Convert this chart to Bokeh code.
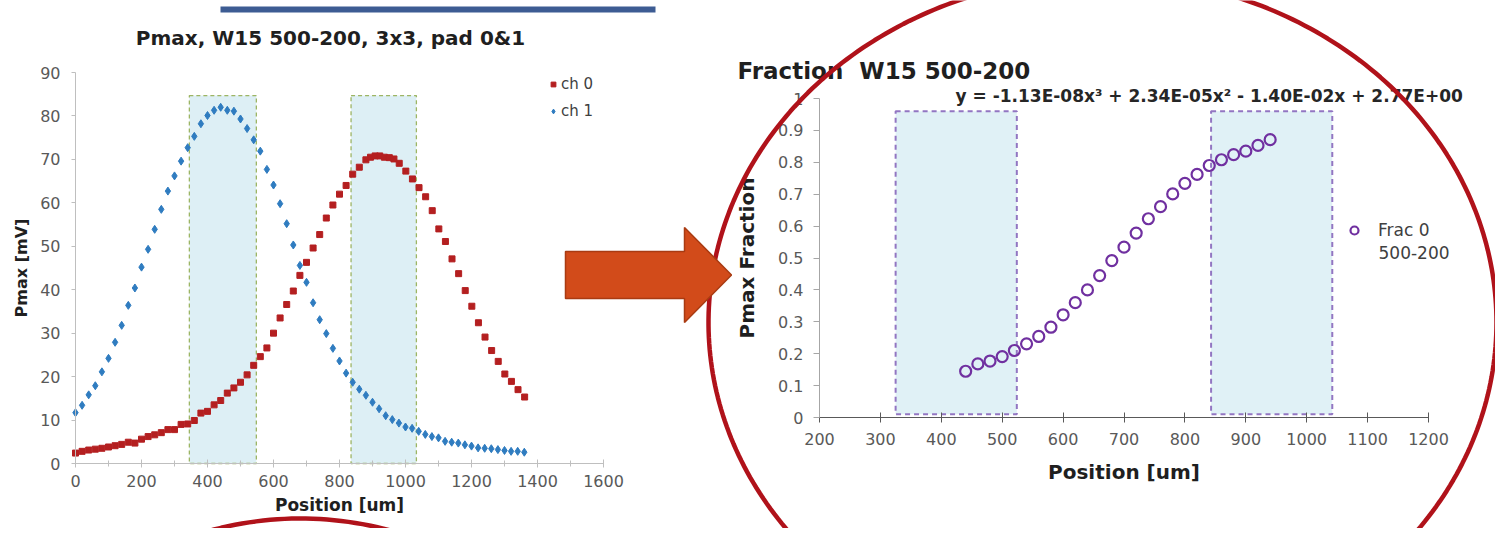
import numpy as np
from bokeh.plotting import figure
from bokeh.models import (Range1d, Legend, LegendItem, Label, PolyAnnotation, FixedTicker,
                          NumeralTickFormatter, LinearAxis)
from bokeh.embed import file_html
from bokeh.resources import INLINE

# ---------------- data: left chart (Pmax vs position) ----------------
ch0_position = [0, 20, 40, 60, 80, 100, 120, 140, 160, 180,
                200, 220, 240, 260, 280, 300, 320, 340, 360, 380,
                400, 420, 440, 460, 480, 500, 520, 540, 560, 580,
                600, 620, 640, 660, 680, 700, 720, 740, 760, 780,
                800, 820, 840, 860, 880, 894, 908, 922, 936, 951, 965,
                981, 1001, 1021, 1041, 1061, 1081, 1101, 1121, 1141, 1161,
                1181, 1201, 1221, 1241, 1261, 1281, 1301, 1321, 1341, 1361]
ch0_pmax = [2.4, 2.8, 3.1, 3.3, 3.5, 3.8, 4.1, 4.4, 4.9, 4.7,
            5.6, 6.2, 6.6, 7.1, 7.8, 7.8, 9.0, 9.1, 9.9, 11.6,
            12.0, 13.5, 14.5, 16.2, 17.4, 18.7, 20.4, 22.6, 24.6, 26.6,
            30.0, 33.5, 36.6, 39.7, 43.3, 46.3, 49.6, 52.7, 56.5, 59.5,
            62.0, 64.0, 66.6, 68.2, 69.9, 70.5, 70.8, 70.8, 70.5, 70.4, 70.1,
            69.1, 67.3, 65.5, 63.5, 61.4, 58.2, 54.0, 51.1, 47.1, 43.7,
            39.8, 36.2, 32.4, 29.1, 26.0, 23.5, 20.6, 18.9, 17.0, 15.3]
ch1_position = [0, 20, 40, 60, 80, 100, 120, 140, 160, 180,
                200, 220, 240, 260, 280, 300, 320, 340, 360, 380,
                400, 420, 440, 460, 480, 500, 520, 540, 560, 580,
                600, 620, 640, 660, 680, 700, 720, 740, 760, 780,
                800, 820, 840, 860, 880, 900, 920, 940, 960, 980,
                1000, 1020, 1040, 1060, 1080, 1100, 1120, 1140, 1160, 1180,
                1200, 1220, 1240, 1260, 1280, 1300, 1320, 1340, 1360]
ch1_pmax = [11.7, 13.4, 15.8, 17.9, 21.1, 24.2, 27.9, 31.8, 36.4, 40.4,
            45.2, 49.3, 53.9, 58.5, 62.7, 66.2, 69.6, 72.7, 75.3, 78.2,
            80.1, 81.3, 82.0, 81.3, 81.1, 79.3, 77.1, 74.5, 71.9, 67.7,
            64.1, 59.8, 55.2, 50.3, 45.6, 41.7, 37.0, 33.1, 29.9, 26.5,
            23.6, 20.8, 18.7, 17.1, 15.7, 14.1, 12.6, 11.0, 10.1, 9.3,
            8.4, 8.1, 7.4, 6.7, 6.2, 5.9, 5.1, 4.9, 4.7, 4.3,
            4.0, 3.6, 3.5, 3.4, 3.2, 3.0, 2.8, 2.8, 2.6]
left_band_start = [345, 835]
left_band_end = [548, 1033]
left_band_bottom = [0, 0]
left_band_top = [84.7, 84.7]
left_x_ticks = [0, 200, 400, 600, 800, 1000, 1200, 1400, 1600]
left_x_minor = [100, 300, 500, 700, 900, 1100, 1300, 1500]
left_y_ticks = [0, 10, 20, 30, 40, 50, 60, 70, 80, 90]

# ---------------- data: right chart (fraction) ----------------
frac_position = [440, 460, 480, 500, 520, 540, 560, 580, 600, 620,
                 640, 660, 680, 700, 720, 740, 760, 780, 800, 820,
                 840, 860, 880, 900, 920, 940]
frac_value = [0.145, 0.168, 0.177, 0.191, 0.210, 0.231, 0.254, 0.283, 0.322, 0.360,
              0.400, 0.445, 0.492, 0.534, 0.578, 0.623, 0.661, 0.701, 0.734, 0.762,
              0.790, 0.808, 0.824, 0.835, 0.853, 0.871]
right_band_start = [325, 843]
right_band_end = [524, 1042]
right_band_bottom = [0.01, 0.01]
right_band_top = [0.96, 0.96]
right_x_ticks = [200, 300, 400, 500, 600, 700, 800, 900, 1000, 1100, 1200]
right_y_ticks = [0, 0.1, 0.2, 0.3, 0.4, 0.5, 0.6, 0.7, 0.8, 0.9, 1.0]

FONT = "DejaVu Sans"
TICK_COL = "#595959"
TITLE_COL = "#1f1f1f"
RED = "#B0121A"
ORANGE = "#D24B1A"
NAVY = "#3D5C93"

W, H = 1495, 528

# one canvas laid out in slide pixels; each chart gets its own pair of scales
p = figure(width=W, height=H, x_range=Range1d(0, W), y_range=Range1d(H, 0),
           x_axis_type=None, y_axis_type=None, min_border=0,
           output_backend="svg", toolbar_location=None)
p.outline_line_color = None
p.background_fill_color = "white"
p.border_fill_color = "white"


def span(v0, v1, p0, p1, lo, hi):
    f = lambda px: v0 + (px - p0) * (v1 - v0) / (p1 - p0)
    return Range1d(f(lo), f(hi))


# left chart plot area: x 0..1600 -> px 75..603, y 0..90 -> py 463..72
# right chart plot area: x 200..1200 -> px 819..1428, y 0..1 -> py 417..98
p.extra_x_ranges = {"lx": span(0, 1600, 75, 603, 0, W),
                    "rx": span(200, 1200, 819, 1428, 0, W)}
p.extra_y_ranges = {"ly": span(0, 90, 463, 72, H, 0),
                    "ry": span(0, 1, 417, 98, H, 0)}

# ---------------- left chart ----------------
p.quad(left=left_band_start, right=left_band_end, bottom=left_band_bottom, top=left_band_top,
       x_range_name="lx", y_range_name="ly",
       fill_color="#DDEFF5", line_color="#9DB564", line_dash="4 3", line_width=1.3)
r0 = p.scatter(ch0_position, ch0_pmax, marker="square", size=6, color="#B41F20",
               x_range_name="lx", y_range_name="ly")
r1 = p.scatter(ch1_position, ch1_pmax, marker="diamond", size=8, color="#2F7CC0",
               x_range_name="lx", y_range_name="ly")


def style(ax, label_size, title_size):
    ax.major_label_text_font = FONT
    ax.major_label_text_font_size = label_size
    ax.major_label_text_color = TICK_COL
    ax.axis_label_text_font = FONT
    ax.axis_label_text_font_style = "bold"
    ax.axis_label_text_color = TITLE_COL
    ax.axis_label_text_font_size = title_size


lxa = LinearAxis(x_range_name="lx", y_range_name="ly", fixed_location=0, bounds=(0, 1600),
                 ticker=FixedTicker(ticks=left_x_ticks, minor_ticks=left_x_minor),
                 axis_label="Position [um]")
style(lxa, "16px", "17px")
lxa.axis_line_color = "#BFBFBF"
lxa.major_tick_line_color = "#BFBFBF"
lxa.minor_tick_line_color = "#BFBFBF"
lxa.major_tick_in = 4
lxa.major_tick_out = 4
lxa.minor_tick_in = 3
lxa.minor_tick_out = 3
lxa.major_label_standoff = 7
lxa.axis_label_standoff = 5
p.add_layout(lxa, "below")

lya = LinearAxis(x_range_name="lx", y_range_name="ly", fixed_location=0, bounds=(0, 90),
                 ticker=FixedTicker(ticks=left_y_ticks, minor_ticks=[]),
                 axis_label="Pmax [mV]")
style(lya, "16px", "16px")
lya.axis_line_color = "#BFBFBF"
lya.major_tick_line_color = "#BFBFBF"
lya.major_tick_in = 0
lya.major_tick_out = 4
lya.major_label_standoff = 11
lya.axis_label_standoff = 6
p.add_layout(lya, "left")

leg1 = Legend(items=[LegendItem(label="ch 0", renderers=[r0]),
                     LegendItem(label="ch 1", renderers=[r1])],
              location=(547, H - 121), orientation="vertical", glyph_width=12, glyph_height=20,
              label_height=20, spacing=7, padding=0, margin=0, label_standoff=2,
              border_line_color=None, background_fill_alpha=0,
              label_text_font=FONT, label_text_font_size="15px", label_text_color="#404040")
p.add_layout(leg1)

p.add_layout(Label(x=330, y=37, text="Pmax, W15 500-200, 3x3, pad 0&1",
                   text_align="center", text_baseline="middle", text_font=FONT,
                   text_font_size="20px", text_font_style="bold", text_color=TITLE_COL))

# ---------------- right chart ----------------
p.quad(left=right_band_start, right=right_band_end, bottom=right_band_bottom, top=right_band_top,
       x_range_name="rx", y_range_name="ry",
       fill_color="#E0F1F6", line_color="#9276C2", line_dash="5 4", line_width=2)
rf = p.scatter(frac_position, frac_value, marker="circle", size=11, line_color="#7030A0",
               line_width=2.2, fill_color=None, x_range_name="rx", y_range_name="ry")

rxa = LinearAxis(x_range_name="rx", y_range_name="ry", fixed_location=0, bounds=(200, 1200),
                 ticker=FixedTicker(ticks=right_x_ticks, minor_ticks=[]),
                 axis_label="Position [um]")
style(rxa, "16px", "20px")
rxa.axis_line_color = "#595959"
rxa.major_tick_line_color = "#595959"
rxa.major_tick_in = 5
rxa.major_tick_out = 5
rxa.major_label_standoff = 10
rxa.axis_label_standoff = 12
p.add_layout(rxa, "below")

rya = LinearAxis(x_range_name="rx", y_range_name="ry", fixed_location=200, bounds=(0, 1),
                 ticker=FixedTicker(ticks=right_y_ticks, minor_ticks=[]),
                 formatter=NumeralTickFormatter(format="0.[0]"),
                 axis_label="Pmax Fraction")
style(rya, "16px", "20px")
rya.axis_line_color = "#A6A6A6"
rya.major_tick_line_color = "#A6A6A6"
rya.major_tick_in = 0
rya.major_tick_out = 6
rya.major_label_standoff = 10
rya.axis_label_standoff = 16
p.add_layout(rya, "left")

leg3 = Legend(items=[LegendItem(label="Frac 0", renderers=[rf])],
              location=(1344, H - 240), glyph_width=20, glyph_height=20, label_height=20,
              padding=0, margin=0, label_standoff=14, border_line_color=None,
              background_fill_alpha=0, label_text_font=FONT, label_text_font_size="17px",
              label_text_color="#404040")
p.add_layout(leg3)
p.add_layout(Label(x=1378, y=252, text="500-200", text_align="left", text_baseline="middle",
                   text_font=FONT, text_font_size="17px", text_color="#404040"))

p.add_layout(Label(x=737, y=70, text="Fraction\u00a0\u00a0W15 500-200", text_align="left",
                   text_baseline="middle", text_font=FONT, text_font_size="23px",
                   text_font_style="bold", text_color=TITLE_COL))
p.add_layout(Label(x=955, y=95,
                   text="y = -1.13E-08x\u00b3 + 2.34E-05x\u00b2 - 1.40E-02x + 2.77E+00",
                   text_align="left", text_baseline="middle", text_font=FONT,
                   text_font_size="17px", text_font_style="bold", text_color="#262626"))

# ---------------- slide decorations ----------------
p.quad(left=[220], right=[655], top=[6], bottom=[12], fill_color=NAVY, line_color=None)
th = np.linspace(0, 2 * np.pi, 360)
p.add_layout(PolyAnnotation(xs=list(1102 + 394 * np.cos(th)), ys=list(322 + 346 * np.sin(th)),
                            fill_alpha=0, line_color=RED, line_alpha=1, line_width=4.5))
p.add_layout(PolyAnnotation(xs=list(300 + 406 * np.cos(th)), ys=list(1000 + 482 * np.sin(th)),
                            fill_alpha=0, line_color=RED, line_alpha=1, line_width=4.5))
p.add_layout(PolyAnnotation(xs=[565, 684, 684, 731, 684, 684, 565],
                            ys=[251, 251, 227, 274.5, 322, 298, 298],
                            fill_color=ORANGE, fill_alpha=1, line_color="#A93B12",
                            line_alpha=1, line_width=1.5))

open("out.html", "w").write(file_html(p, INLINE))
